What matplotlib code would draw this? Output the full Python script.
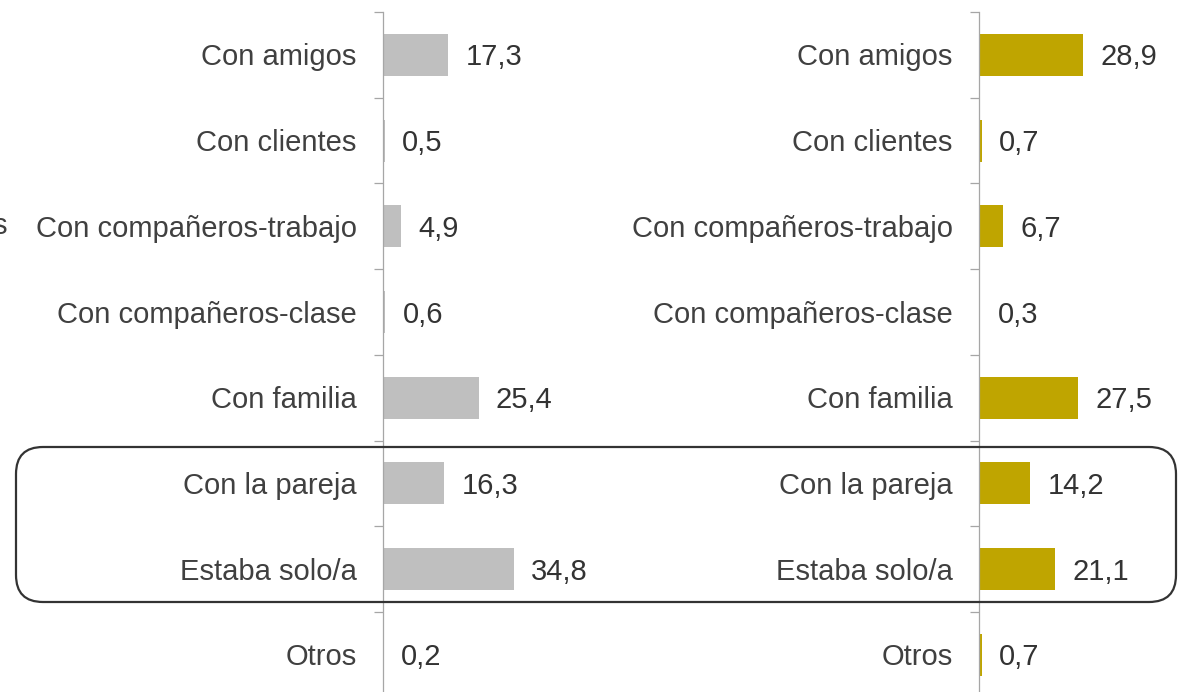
import matplotlib.pyplot as plt
from matplotlib.patches import FancyBboxPatch
from matplotlib.transforms import blended_transform_factory

categories = ["Con amigos", "Con clientes", "Con compañeros-trabajo",
              "Con compañeros-clase", "Con familia", "Con la pareja",
              "Estaba solo/a", "Otros"]
left_values = [17.3, 0.5, 4.9, 0.6, 25.4, 16.3, 34.8, 0.2]
right_values = [28.9, 0.7, 6.7, 0.3, 27.5, 14.2, 21.1, 0.7]

plt.rcParams['font.family'] = ['Liberation Sans', 'DejaVu Sans']

W, H = 1178, 692
fig = plt.figure(figsize=(W / 100, H / 100), dpi=100)

axis_grey = "#A6A6A6"
text_col = "#404040"
fs = 21
base_drop = -7.6  # points from bar centre down to text baseline


def panel(left_px, px_per_unit, values, colour):
    x0 = left_px / W
    width = 40 * px_per_unit / W
    ax = fig.add_axes([x0, (H - 697.6) / H, width, 685.6 / H])
    pos = range(len(categories))
    ax.barh(pos, values, height=0.49, color=colour)
    ax.set_xlim(0, 40)
    ax.set_ylim(len(categories) - 0.5, -0.5)
    for s in ["top", "right", "bottom"]:
        ax.spines[s].set_visible(False)
    ax.spines["left"].set_color(axis_grey)
    ax.spines["left"].set_linewidth(0.9)
    ax.set_xticks([])
    ax.set_yticks([])
    ax.set_yticks([p - 0.5 for p in pos], minor=True)
    ax.tick_params(axis="y", which="minor", length=6.5, width=0.9,
                   color=axis_grey)
    for i, (cat, v) in enumerate(zip(categories, values)):
        ax.annotate(cat, (0, i), xycoords=("axes fraction", "data"),
                    xytext=(-19, base_drop), textcoords="offset points",
                    ha="right", va="baseline", fontsize=fs, color=text_col)
        ax.annotate(f"{v:.1f}".replace(".", ","), (v, i),
                    xytext=(12.5, base_drop), textcoords="offset points",
                    ha="left", va="baseline", fontsize=fs, color="#333333")
    return ax


ax1 = panel(383, 3.76, left_values, "#BFBFBF")
ax2 = panel(979, 3.6, right_values, "#BFA500")

# clipped label fragment at the far left edge
tr = blended_transform_factory(fig.transFigure, ax1.transData)
fig.text(7 / W, 2, "s", transform=tr, ha="right", va="center",
         fontsize=fs, color=text_col)

# rounded box around "Con la pareja" / "Estaba solo/a"
box = FancyBboxPatch((0.16, (H - 602) / 100), 11.6, 1.55,
                     boxstyle="round,pad=0,rounding_size=0.27",
                     transform=fig.dpi_scale_trans, fill=False,
                     edgecolor="#333333", linewidth=1.6, clip_on=False)
fig.add_artist(box)

fig.savefig("out.png", dpi=100)
